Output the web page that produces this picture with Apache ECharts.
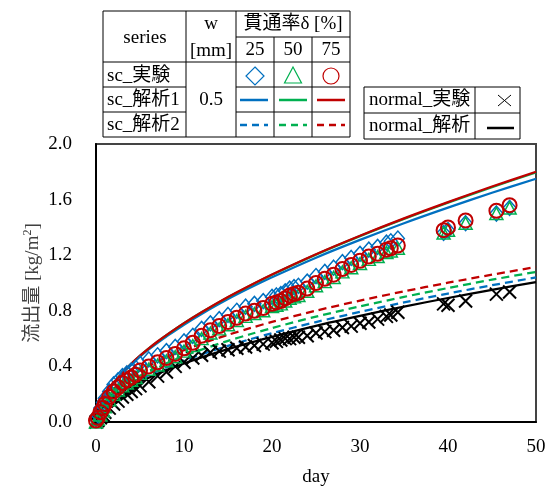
<!DOCTYPE html>
<html><head><meta charset="utf-8">
<script src="https://cdn.jsdelivr.net/npm/echarts@6/dist/echarts.min.js"></script>
<style>html,body{margin:0;padding:0;background:#fff}#c{width:549px;height:486px}</style>
</head><body><div id="c"></div>
<script>
// ---- experimental data (day, flux kg/m2) ----
const expDays = [0,0.2,0.5,0.8,1,1.5,2,2.5,3,3.5,4,4.5,5,6,7,8,9,10,11,12,13,14,15,16,17,18,19,20,20.5,21,21.5,22,22.5,23,24,25,26,27,28,29,30,31,32,33,33.5,34.3,39.5,40,42,45.5,47];
const sc25Exp = [0.02,0.05,0.10,0.14,0.17,0.22,0.27,0.30,0.33,0.35,0.37,0.39,0.42,0.45,0.48,0.51,0.54,0.58,0.62,0.67,0.71,0.74,0.77,0.80,0.83,0.85,0.87,0.90,0.91,0.92,0.94,0.96,0.97,0.98,1.01,1.05,1.08,1.11,1.15,1.18,1.21,1.24,1.26,1.29,1.30,1.32,1.36,1.38,1.43,1.50,1.54];
const sc50Exp = [0.00,0.02,0.05,0.08,0.11,0.16,0.20,0.23,0.26,0.28,0.30,0.32,0.35,0.38,0.41,0.44,0.47,0.51,0.55,0.60,0.64,0.67,0.70,0.73,0.76,0.78,0.80,0.83,0.84,0.85,0.87,0.89,0.90,0.91,0.94,0.98,1.01,1.04,1.08,1.11,1.14,1.17,1.19,1.22,1.23,1.25,1.36,1.38,1.43,1.50,1.54];
const sc75Exp = [0.01,0.03,0.07,0.10,0.13,0.18,0.22,0.25,0.28,0.30,0.32,0.34,0.37,0.40,0.43,0.46,0.49,0.53,0.57,0.62,0.66,0.69,0.72,0.75,0.78,0.80,0.82,0.85,0.86,0.87,0.89,0.91,0.92,0.93,0.96,1.00,1.03,1.06,1.10,1.13,1.16,1.19,1.21,1.24,1.25,1.27,1.38,1.40,1.45,1.52,1.56];
const normalExp = [0.00,0.01,0.03,0.05,0.07,0.10,0.13,0.15,0.18,0.20,0.22,0.24,0.26,0.29,0.33,0.36,0.40,0.43,0.46,0.48,0.50,0.51,0.52,0.53,0.54,0.55,0.56,0.57,0.58,0.59,0.60,0.60,0.61,0.61,0.62,0.64,0.65,0.66,0.68,0.69,0.71,0.72,0.74,0.76,0.77,0.79,0.85,0.84,0.87,0.92,0.935];

// ---- analysis curves ----
const anaDays = [0,0.25,0.5,1,1.5,2,3,4,5,6,7,8,10,12,15,17.5,20,25,30,35,40,45,50];
const sc25Ana1 = [0,0.083,0.123,0.184,0.233,0.276,0.349,0.412,0.470,0.522,0.570,0.615,0.700,0.777,0.884,0.965,1.041,1.182,1.310,1.430,1.542,1.649,1.750];
const sc50Ana1 = [0,0.085,0.126,0.188,0.237,0.280,0.354,0.418,0.476,0.529,0.578,0.624,0.710,0.789,0.898,0.980,1.059,1.204,1.337,1.461,1.578,1.689,1.795];
const sc75Ana1 = [0,0.085,0.126,0.188,0.238,0.281,0.355,0.419,0.477,0.530,0.579,0.625,0.711,0.790,0.899,0.982,1.061,1.207,1.340,1.465,1.582,1.694,1.800];
const sc25Ana2 = [0,0.062,0.090,0.130,0.161,0.188,0.233,0.271,0.305,0.337,0.365,0.392,0.442,0.487,0.548,0.595,0.639,0.719,0.792,0.860,0.924,0.984,1.040];
const sc50Ana2 = [0,0.072,0.103,0.146,0.180,0.208,0.257,0.297,0.333,0.366,0.395,0.423,0.475,0.521,0.584,0.631,0.676,0.758,0.832,0.900,0.964,1.024,1.080];
const sc75Ana2 = [0,0.089,0.123,0.172,0.209,0.239,0.291,0.333,0.371,0.405,0.436,0.464,0.517,0.564,0.627,0.675,0.720,0.801,0.873,0.940,1.002,1.060,1.115];
const normalAna = [0,0.057,0.083,0.121,0.150,0.176,0.219,0.256,0.289,0.319,0.347,0.373,0.421,0.465,0.524,0.570,0.613,0.692,0.763,0.830,0.892,0.951,1.007];

const yTickLabels = ['0.0','0.4','0.8','1.2','1.6','2.0'];
const xTickLabels = ['0','10','20','30','40','50'];

const BLUE = '#0070C0', GREEN = '#00B050', RED = '#C00000';
const FF = "'Liberation Serif','Times New Roman','Noto Sans CJK JP',serif";

function pairs(xs, ys){ return xs.map((x,i)=>[x, ys[i]]); }
const crossPath = 'path://M0,0L10,10M10,0L0,10';

function lineSeries(name, ys, color, dashed){
  return {name, type:'line', data: pairs(anaDays, ys), smooth:0.3, symbol:'none',
    lineStyle:{color, width:2.25, type: dashed ? [8,5] : 'solid'}, z:2, silent:true};
}
function scatterSeries(name, ys, symbol, size, color, bw){
  return {name, type:'scatter', data: pairs(expDays, ys), symbol, symbolSize:size,
    itemStyle:{color:'rgba(0,0,0,0)', borderColor:color, borderWidth:bw, opacity:1}, z:3, silent:true};
}

// ---- legend table graphics ----
const g = [];
function L(x1,y1,x2,y2,stroke,w,dash){ g.push({type:'line', shape:{x1,y1,x2,y2}, style:{stroke:stroke||'#000', lineWidth:w||1, lineDash:dash||null}, z:10}); }
function T(text,x,y,align){ g.push({type:'text', x, y, style:{text, font:'19px '+FF, fill:'#000', align:align||'center', verticalAlign:'middle', textAlign:align||'center', textVerticalAlign:'middle'}, z:10}); }
// table 1
L(103,11,350,11); L(103,137,350,137); L(103,11,103,137); L(350,11,350,137);
L(186,11,186,137); L(236,11,236,137); L(274,37,274,137); L(312,37,312,137);
L(236,37,350,37); L(103,62,350,62);
L(103,87,186,87); L(236,87,350,87); L(103,112,186,112); L(236,112,350,112);
T('series',145,38); T('w',211,24); T('[mm]',211,51); T('貫通率δ [%]',293,24);
T('25',255,50); T('50',293,50); T('75',331,50);
T('sc_実験',107,76,'left'); T('sc_解析1',107,100,'left'); T('sc_解析2',107,125,'left');
T('0.5',211,100);
g.push({type:'polygon', shape:{points:[[255,67],[264,76],[255,85],[246,76]]}, style:{fill:'none', stroke:BLUE, lineWidth:1.2}, z:10});
g.push({type:'polygon', shape:{points:[[293,67],[301.5,83],[284.5,83]]}, style:{fill:'none', stroke:GREEN, lineWidth:1.2}, z:10});
g.push({type:'circle', shape:{cx:331, cy:76, r:8}, style:{fill:'none', stroke:RED, lineWidth:1.2}, z:10});
L(240,100,268,100,BLUE,2.5); L(279,100,307,100,GREEN,2.5); L(317,100,345,100,RED,2.5);
L(240,125,268,125,BLUE,2.5,[7,5]); L(279,125,307,125,GREEN,2.5,[7,5]); L(317,125,345,125,RED,2.5,[7,5]);
// table 2
L(364,87,520,87); L(364,139,520,139); L(364,87,364,139); L(520,87,520,139); L(475,87,475,139); L(364,113,520,113);
T('normal_実験',369,100,'left'); T('normal_解析',369,126,'left');
L(498,95,511,106,'#000',1); L(511,95,498,106,'#000',1);
L(487,128,514,128,'#000',2.5);

const option = {
  animation:false,
  backgroundColor:'#fff',
  grid:{left:96, right:13, top:144, bottom:64, show:true, borderColor:'#444', borderWidth:2, containLabel:false, outerBoundsMode:'none'},
  xAxis:{type:'value', min:0, max:50, interval:10,
    name:'day', nameLocation:'middle', nameGap:46, nameMoveOverlap:false, nameTextStyle:{fontFamily:FF, fontSize:19, color:'#000'},
    axisLine:{show:true, lineStyle:{color:'#000', width:2}}, axisTick:{show:false}, splitLine:{show:false},
    axisLabel:{fontFamily:FF, fontSize:19, color:'#000', margin:16, formatter:(v)=>xTickLabels[Math.round(v/10)]}},
  yAxis:{type:'value', min:0, max:2, interval:0.4,
    name:'{a|流出量 [kg/m}{b|2}{a|]}', nameLocation:'middle', nameGap:52, nameRotate:90, nameMoveOverlap:false,
    nameTextStyle:{rich:{a:{fontFamily:FF, fontSize:19, color:'#404040', lineHeight:22}, b:{fontFamily:FF, fontSize:12, color:'#404040', verticalAlign:'top', lineHeight:22}}},
    axisLine:{show:true, lineStyle:{color:'#000', width:2}}, axisTick:{show:false}, splitLine:{show:false},
    axisLabel:{fontFamily:FF, fontSize:19, color:'#000', margin:24, formatter:(v)=>yTickLabels[Math.round(v/0.4)]}},
  graphic: g,
  series:[
    lineSeries('sc_解析2 25', sc25Ana2, BLUE, true),
    lineSeries('sc_解析2 50', sc50Ana2, GREEN, true),
    lineSeries('sc_解析2 75', sc75Ana2, RED, true),
    lineSeries('normal_解析', normalAna, '#000', false),
    lineSeries('sc_解析1 25', sc25Ana1, BLUE, false),
    lineSeries('sc_解析1 50', sc50Ana1, GREEN, false),
    lineSeries('sc_解析1 75', sc75Ana1, RED, false),
    scatterSeries('normal_実験', normalExp, crossPath, 13, '#000', 2),
    scatterSeries('sc_実験 25', sc25Exp, 'diamond', [13,15], BLUE, 1.5),
    scatterSeries('sc_実験 50', sc50Exp, 'triangle', [13,12], GREEN, 1.5),
    scatterSeries('sc_実験 75', sc75Exp, 'circle', 14, RED, 2)
  ]
};
const chart = echarts.init(document.getElementById('c'), null, {renderer:'canvas'});
chart.setOption(option);
</script>
</body></html>
